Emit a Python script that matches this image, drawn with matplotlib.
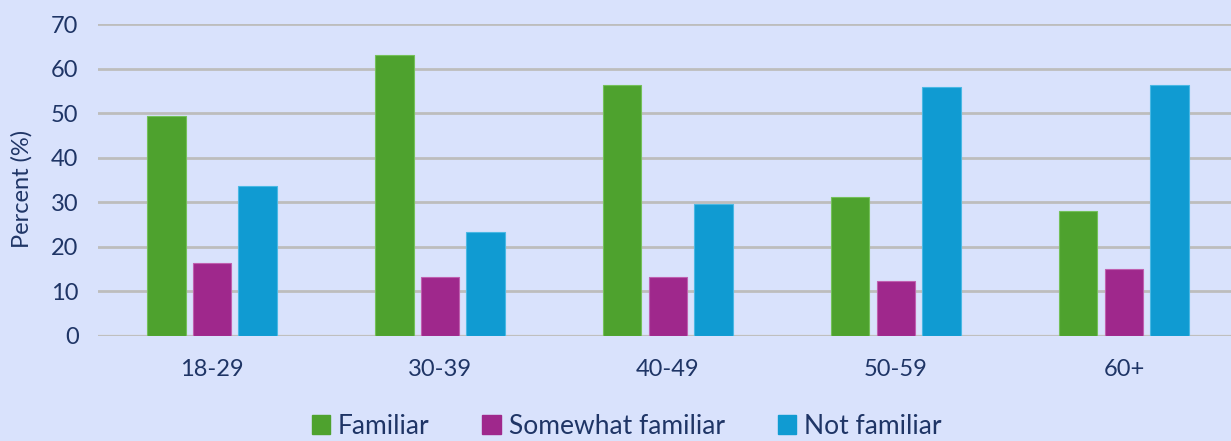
import numpy as np
import matplotlib
matplotlib.use("Agg")
import matplotlib.pyplot as plt
from matplotlib.patches import Patch

# survey results by age group, percent of respondents
age_groups = ["18-29", "30-39", "40-49", "50-59", "60+"]
familiar = [49.3, 63.0, 56.4, 31.1, 28.1]
somewhat_familiar = [16.4, 13.1, 13.1, 12.2, 14.9]
not_familiar = [33.7, 23.3, 29.6, 55.8, 56.4]

series_names = ["Familiar", "Somewhat familiar", "Not familiar"]
colors = ["#4ea22e", "#9f288c", "#109bd2"]
edges = ["#74c05a", "#c060b0", "#4ab8e4"]

bg = "#d9e2fc"
ink = "#1f3566"

plt.rcParams["font.family"] = ["Lato", "DejaVu Sans"]

fig = plt.figure(figsize=(12.31, 4.41), dpi=100, facecolor=bg)
ax = fig.add_axes([0.0796, 0.239, 0.926, 0.706], facecolor=bg)

x = np.arange(len(age_groups))
w = 0.168
step = 0.2
for i, (vals, c, ec) in enumerate(zip([familiar, somewhat_familiar, not_familiar], colors, edges)):
    ax.bar(x + (i - 1) * step, vals, width=w, color=c, edgecolor=ec, linewidth=0.8, zorder=3)

ax.set_xlim(-0.5, len(age_groups) - 0.5)
ax.set_ylim(0, 70)
ax.set_yticks(range(0, 71, 10))
ax.set_xticks(x)
ax.set_xticklabels(age_groups)

ax.yaxis.grid(True, color="#bdbdbd", linewidth=2.0, zorder=0)
ax.axhline(0, color="#d6d6d6", linewidth=2.5, zorder=1)
for s in ax.spines.values():
    s.set_visible(False)
ax.tick_params(axis="both", length=0, labelsize=17, labelcolor=ink)
ax.tick_params(axis="x", pad=17)
ax.tick_params(axis="y", pad=14)

fig.text(22 / 1231, 1 - 189 / 441, "Percent (%)", rotation=90, ha="center", va="center",
         fontsize=17, color=ink)

handles = [Patch(facecolor=c, edgecolor=c) for c in colors]
fig.legend(handles, series_names, loc="center", bbox_to_anchor=(0.509, 0.034), ncol=3,
           frameon=False, fontsize=19, labelcolor=ink, handlelength=0.7, handleheight=0.7,
           handletextpad=0.3, columnspacing=2.0, borderpad=0.2)

fig.savefig("out.png", dpi=100, facecolor=bg)
